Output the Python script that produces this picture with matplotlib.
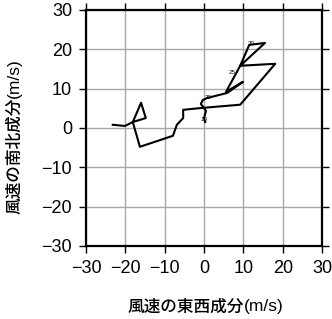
import matplotlib
matplotlib.use('Agg')
import matplotlib.pyplot as plt

plt.rcParams['font.family'] = ['Liberation Sans', 'Noto Sans CJK JP', 'DejaVu Sans']

# hodograph (u, v) in m/s
u = [-23.2, -20.1, -18.1, -16.0, -14.8, -18.1, -16.3, -7.9, -6.9, -5.3, -5.3, -0.3,
     9.2, 18.1, 9.2, 11.5, 15.5, 9.2, 5.6, 9.9, 5.9, 0.8, -0.3, -0.8, 0.5, 0.0, 0.3]
v = [0.8, 0.5, 1.5, 6.4, 2.5, 1.5, -4.8, -2.0, 0.8, 2.5, 4.6, 5.1,
     5.9, 16.3, 15.8, 21.1, 21.6, 15.8, 9.2, 11.7, 8.9, 7.6, 7.1, 6.1, 4.3, 2.5, 1.5]

# height labels along the curve
lab_u = [12.0, 7.2, 1.0, 0.0]
lab_v = [21.5, 14.2, 7.7, 2.2]
lab_txt = ['30', '25', '20', '10']

ticks = [-30, -20, -10, 0, 10, 20, 30]

fig = plt.figure(figsize=(3.32, 3.19), dpi=100)
ax = fig.add_axes([0.259, 0.229, 0.711, 0.740])

ax.set_xlim(-30, 30)
ax.set_ylim(-30, 30)
ax.set_xticks(ticks)
ax.set_yticks(ticks)
ax.set_xticklabels(['\u2212' + str(-t) if t < 0 else str(t) for t in ticks])
ax.set_yticklabels(['\u2212' + str(-t) if t < 0 else str(t) for t in ticks])
ax.grid(True, color='#a8a8a8', lw=1.0)
ax.set_axisbelow(True)

ax.plot(u, v, color='black', lw=1.5)
for x, y, t in zip(lab_u, lab_v, lab_txt):
    ax.text(x, y, t, fontsize=4.5, ha='center', va='center')

for s in ax.spines.values():
    s.set_linewidth(1.6)
ax.tick_params(direction='out', length=5, width=1, labelsize=13,
               top=True, right=True, pad=5, colors='black')

# axis labels: kanji part + (m/s) in lighter, smaller type
fig.text(244 / 332, 1 - 307 / 319, '風速の東西成分', fontsize=12, fontweight='medium',
         family=['Noto Sans CJK JP'], ha='right', va='center')
fig.text(244 / 332, 1 - 307 / 319, '(m/s)', fontsize=12.5, ha='left', va='center')
fig.text(14 / 332, 1 - 98 / 319, '風速の南北成分', fontsize=12, fontweight='medium',
         family=['Noto Sans CJK JP'], rotation=90, rotation_mode='anchor',
         ha='right', va='center')
fig.text(14 / 332, 1 - 98 / 319, '(m/s)', fontsize=12.5, rotation=90,
         rotation_mode='anchor', ha='left', va='center')

fig.savefig('out.png', dpi=100)
